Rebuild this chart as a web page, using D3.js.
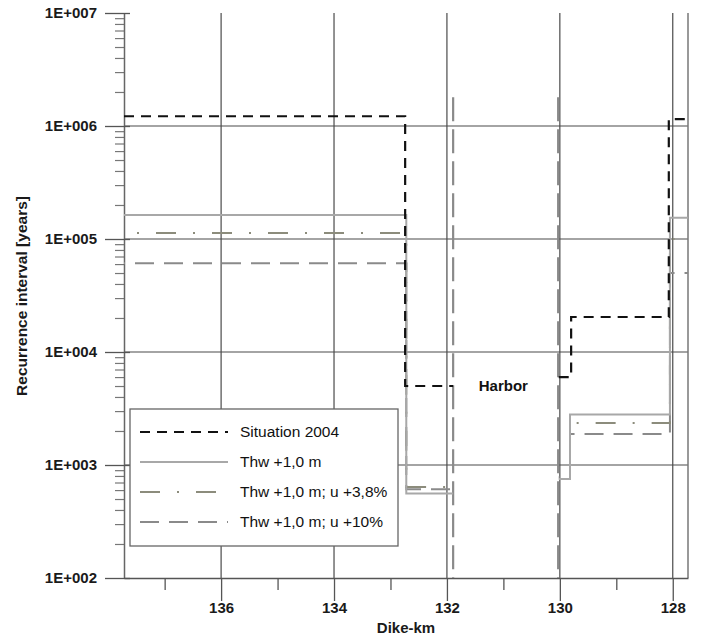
<!DOCTYPE html>
<html>
<head>
<meta charset="utf-8">
<script src="https://cdn.jsdelivr.net/npm/d3@7"></script>
<style>
  body { margin: 0; background: #fff; }
  svg { display: block; }
  text { font-family: Arial, "Liberation Sans", sans-serif; }
</style>
</head>
<body>
<div id="chart"></div>
<script>
// axis ticks
const yTickValues = [1e2, 1e3, 1e4, 1e5, 1e6, 1e7];
const yTickLabels = ["1E+002", "1E+003", "1E+004", "1E+005", "1E+006", "1E+007"];
const xMajorTicks = [136, 134, 132, 130, 128];
const xMinorTicks = [137, 135, 133, 131, 129];

// step breakpoints (km where a level starts), null = harbor gap
const kmSit2004 = [137.72, 132.74, 131.89, 131.0, 130.02, 129.80, 128.07, 127.73];
const sit2004   = [1.22e6, 5.0e3, 5.0e3, null, 6.0e3, 2.04e4, 1.15e6, 1.15e6];

const kmThw = [137.72, 132.72, 131.89, 131.0, 130.02, 129.82, 128.05, 127.73];
const thw   = [1.63e5, 5.6e2, 5.6e2, null, 7.5e2, 2.8e3, 1.54e5, 1.54e5];
const thwU38 = [1.13e5, 6.4e2, 6.4e2, null, 8.3e2, 2.35e3, 1.0e5, 1.0e5];
const thwU10 = [6.1e4, 6.1e2, 6.1e2, null, 7.8e2, 1.88e3, 5.0e4, 5.0e4];

// harbor edges drawn as long-dash verticals
const harborKm = [131.89, 130.03];
const harborRange = [1e2, 1.8e6];

const seriesNames = ["Situation 2004", "Thw +1,0 m", "Thw +1,0 m; u +3,8%", "Thw +1,0 m; u +10%"];

const W = 703, H = 639;
const m = { left: 124, right: 688, top: 13, bottom: 578 };

const svg = d3.select("#chart").append("svg")
    .attr("width", W).attr("height", H);

const x = d3.scaleLinear().domain([137.72, 127.73]).range([m.left, m.right]);
const y = d3.scaleLog().domain([1e2, 1e7]).range([m.bottom, m.top]);

svg.append("clipPath").attr("id", "plotclip")
  .append("rect").attr("x", m.left).attr("y", m.top)
    .attr("width", m.right - m.left).attr("height", m.bottom - m.top);

// grid
const grid = svg.append("g").attr("stroke", "#4a4a4a").attr("stroke-width", 1.2);
grid.selectAll("line.h").data([1e3, 1e4, 1e5, 1e6]).enter().append("line")
    .attr("x1", m.left).attr("x2", m.right)
    .attr("y1", d => y(d)).attr("y2", d => y(d));
grid.selectAll("line.v").data(xMajorTicks).enter().append("line")
    .attr("x1", d => x(d)).attr("x2", d => x(d))
    .attr("y1", m.top).attr("y2", m.bottom);
// right frame
svg.append("line").attr("x1", m.right).attr("x2", m.right)
    .attr("y1", m.top).attr("y2", m.bottom)
    .attr("stroke", "#777").attr("stroke-width", 1.5);

// y axis
const yMinor = [];
for (let e = 2; e < 7; e++) for (let k = 2; k <= 9; k++) yMinor.push(k * Math.pow(10, e));
svg.append("g").attr("transform", "translate(" + m.left + ",0)")
    .call(d3.axisLeft(y).tickValues(yMinor).tickSize(9).tickFormat("").tickSizeOuter(0))
    .call(g => g.select(".domain").remove())
    .selectAll("line").attr("stroke", "#777").attr("stroke-width", 1.2);
const yAx = svg.append("g").attr("transform", "translate(" + m.left + ",0)")
    .call(d3.axisLeft(y).tickValues(yTickValues).tickSize(19).tickPadding(8)
        .tickFormat((d, i) => yTickLabels[i]).tickSizeOuter(0));
yAx.select(".domain").attr("stroke", "#666").attr("stroke-width", 1.5);
yAx.selectAll("line").attr("x1", 6).attr("stroke", "#555").attr("stroke-width", 1.3);
yAx.selectAll("text").attr("font-size", 15).attr("font-weight", "bold").attr("fill", "#1a1a1a");

// x axis
svg.append("g").attr("transform", "translate(0," + m.bottom + ")")
    .call(d3.axisBottom(x).tickValues(xMinorTicks).tickSize(12).tickFormat("").tickSizeOuter(0))
    .call(g => g.select(".domain").remove())
    .selectAll("line").attr("stroke", "#555").attr("stroke-width", 1.3);
const xAx = svg.append("g").attr("transform", "translate(0," + m.bottom + ")")
    .call(d3.axisBottom(x).tickValues(xMajorTicks).tickSize(23).tickPadding(1)
        .tickFormat(d3.format("d")).tickSizeOuter(0));
xAx.select(".domain").attr("stroke", "#555").attr("stroke-width", 1.5);
xAx.selectAll("line").attr("stroke", "#555").attr("stroke-width", 1.3);
xAx.selectAll("text").attr("font-size", 15).attr("font-weight", "bold").attr("fill", "#1a1a1a");

// axis titles
svg.append("text")
    .attr("transform", "translate(27," + 296 + ") rotate(-90)")
    .attr("text-anchor", "middle")
    .attr("font-size", 15.5).attr("font-weight", "bold").attr("fill", "#1a1a1a")
    .text("Recurrence interval [years]");
svg.append("text")
    .attr("x", (m.left + m.right) / 2).attr("y", 633)
    .attr("text-anchor", "middle")
    .attr("font-size", 15).attr("font-weight", "bold").attr("fill", "#1a1a1a")
    .text("Dike-km");

// series
const styles = [
  { stroke: "#111", width: 2.2, dash: "10,7", offset: 0 },
  { stroke: "#a8a8a8", width: 2, dash: null, offset: 0 },
  { stroke: "#8c8c7c", width: 2, dash: "20,17,2,17", offset: 24 },
  { stroke: "#8a8a8a", width: 2, dash: "19,10", offset: 18 }
];
const allSeries = [
  kmSit2004.map((k, i) => ({ k: k, v: sit2004[i] })),
  kmThw.map((k, i) => ({ k: k, v: thw[i] })),
  kmThw.map((k, i) => ({ k: k, v: thwU38[i] })),
  kmThw.map((k, i) => ({ k: k, v: thwU10[i] }))
];

const line = d3.line()
    .defined(d => d.v != null)
    .x(d => x(d.k)).y(d => y(d.v))
    .curve(d3.curveStepAfter);

const plot = svg.append("g").attr("clip-path", "url(#plotclip)");

plot.selectAll("line.harbor").data(harborKm).enter().append("line")
    .attr("x1", d => x(d)).attr("x2", d => x(d))
    .attr("y1", y(harborRange[1])).attr("y2", y(harborRange[0]))
    .attr("stroke", styles[3].stroke).attr("stroke-width", 2.2)
    .attr("stroke-dasharray", "24,8");

// draw grays first, black on top
[3, 2, 1, 0].forEach(i => {
  plot.append("path")
      .datum(allSeries[i])
      .attr("d", line)
      .attr("fill", "none")
      .attr("stroke", styles[i].stroke)
      .attr("stroke-width", styles[i].width)
      .attr("stroke-dasharray", styles[i].dash)
      .attr("stroke-dashoffset", styles[i].offset);
});

// harbor label
svg.append("text")
    .attr("x", x(131.0)).attr("y", y(5e3)).attr("dy", "0.35em")
    .attr("text-anchor", "middle")
    .attr("font-size", 15).attr("font-weight", "bold").attr("fill", "#111")
    .text("Harbor");

// legend
const lg = svg.append("g").attr("transform", "translate(130,409)");
lg.append("rect").attr("width", 268).attr("height", 137)
    .attr("fill", "#fff").attr("stroke", "#666").attr("stroke-width", 1.3);
seriesNames.forEach((name, i) => {
  const ly = 23 + i * 30;
  lg.append("line")
      .attr("x1", 10).attr("x2", 98).attr("y1", ly).attr("y2", ly)
      .attr("stroke", styles[i].stroke).attr("stroke-width", styles[i].width)
      .attr("stroke-dasharray", styles[i].dash);
  lg.append("text")
      .attr("x", 110).attr("y", ly).attr("dy", "0.35em")
      .attr("font-size", 15.5).attr("fill", "#111")
      .text(name);
});
</script>
</body>
</html>
